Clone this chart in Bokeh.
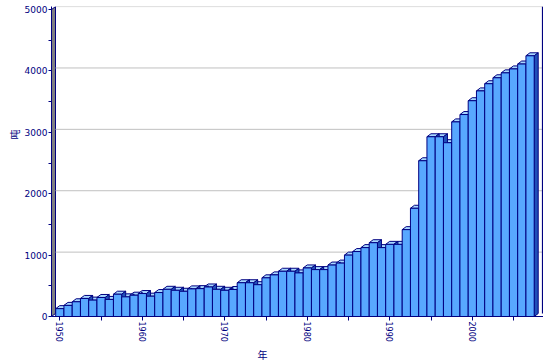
import math
from bokeh.plotting import figure
from bokeh.models import Range1d, FixedTicker, Title, ColumnDataSource
from bokeh.embed import file_html
from bokeh.resources import INLINE

# ---- data ----
years = list(range(1950, 2008))
output = [128, 181, 240, 294, 267, 310, 278, 363, 320, 347,
          374, 331, 390, 443, 427, 411, 450, 454, 481, 443,
          427, 440, 550, 550, 518, 630, 678, 737, 737, 710,
          791, 764, 764, 838, 870, 1000, 1058, 1122, 1202, 1122,
          1175, 1175, 1415, 1763, 2537, 2928, 2928, 2831, 3170, 3290,
          3515, 3675, 3792, 3889, 3969, 4033, 4113, 4247]
y_ticks = [0, 1000, 2000, 3000, 4000, 5000]
y_minor = [500, 1500, 2500, 3500, 4500]
x_ticks = [1950, 1960, 1970, 1980, 1990, 2000]
x_minor = [1955, 1965, 1975, 1985, 1995, 2005]
y_title = "吨"
x_title = "年"

# ---- layout ----
W, H = 543, 361
left, right, top, bottom = 51, 0, 6, 10
frame_w = W - left - right
frame_h = 310
px_per_year = 8.25
x_start = 1949.5 - 4.2 / px_per_year
x_end = x_start + frame_w / px_per_year
y_end = 5050
px_per_unit = frame_h / y_end
dx = 4 / px_per_year
dy = 3 / px_per_unit

NAVY = "#000080"
FRONT = "#58a8ff"
TOPC = "#a8d8ff"
SIDE = "#2050b8"

p = figure(width=W, height=H, output_backend="svg", toolbar_location=None,
           x_range=Range1d(x_start, x_end), y_range=Range1d(0, y_end),
           min_border_left=left, min_border_right=right,
           min_border_top=top, min_border_bottom=bottom)
p.outline_line_color = None
p.xgrid.visible = False
p.ygrid.visible = False
p.background_fill_color = "white"
p.border_fill_color = "white"

# left wall (grey strip)
p.patch([x_start, x_start + dx, x_start + dx, x_start],
        [0, dy, y_ticks[-1] + dy, y_ticks[-1]],
        fill_color="#808080", line_color=NAVY, line_width=1)

# back-wall gridlines
gy = [t + dy for t in y_ticks[1:]]
p.segment(x0=[x_start + dx] * len(gy), x1=[x_end] * len(gy), y0=gy, y1=gy,
          line_color="#c0c0c0", line_width=1)

# right wall edge
x_wall = x_end - 1.0 / px_per_year
p.segment(x0=[x_wall], x1=[x_wall], y0=[dy], y1=[y_ticks[-1] + dy],
          line_color=NAVY, line_width=1.2)

# 3D bars
top_xs, top_ys, side_xs, side_ys = [], [], [], []
for x, h in zip(years, output):
    l, r = x - 0.5, x + 0.5
    top_xs.append([l, r, r + dx, l + dx])
    top_ys.append([h, h, h + dy, h + dy])
    side_xs.append([r, r + dx, r + dx, r])
    side_ys.append([0, dy, h + dy, h])

p.patches(top_xs, top_ys, fill_color=TOPC, line_color=NAVY, line_width=1)
p.patches(side_xs, side_ys, fill_color=SIDE, line_color=NAVY, line_width=1)
src = ColumnDataSource(dict(x=years, top=output))
p.vbar(x="x", top="top", width=1, bottom=0, source=src,
       fill_color=FRONT, line_color=NAVY, line_width=1)

# axes
p.yaxis.ticker = FixedTicker(ticks=y_ticks, minor_ticks=y_minor)
p.xaxis.ticker = FixedTicker(ticks=x_ticks, minor_ticks=x_minor)
for ax in (p.xaxis[0], p.yaxis[0]):
    ax.axis_line_color = NAVY
    ax.major_tick_line_color = NAVY
    ax.minor_tick_line_color = NAVY
    ax.major_tick_in = 0
    ax.minor_tick_in = 0
    ax.major_label_text_color = NAVY
    ax.major_label_text_font = "DejaVu Sans"
    ax.major_label_standoff = 1
p.yaxis.major_label_text_font_size = "9px"
p.xaxis.major_label_text_font_size = "8px"
p.yaxis.major_tick_out = 3
p.yaxis.minor_tick_out = 3
p.xaxis.major_tick_out = 4
p.xaxis.minor_tick_out = 4
p.xaxis.major_label_orientation = -math.pi / 2

# axis titles (side titles, so they are not clipped)
p.add_layout(Title(text=y_title, align="left", offset=177, standoff=0,
                   text_color=NAVY, text_font="Noto Sans CJK SC",
                   text_font_size="10px", text_font_style="normal"), "left")
p.add_layout(Title(text=x_title, align="left", offset=206, standoff=0,
                   text_color=NAVY, text_font="Noto Sans CJK SC",
                   text_font_size="10px", text_font_style="normal"), "below")

open("out.html", "w").write(file_html(p, INLINE))
